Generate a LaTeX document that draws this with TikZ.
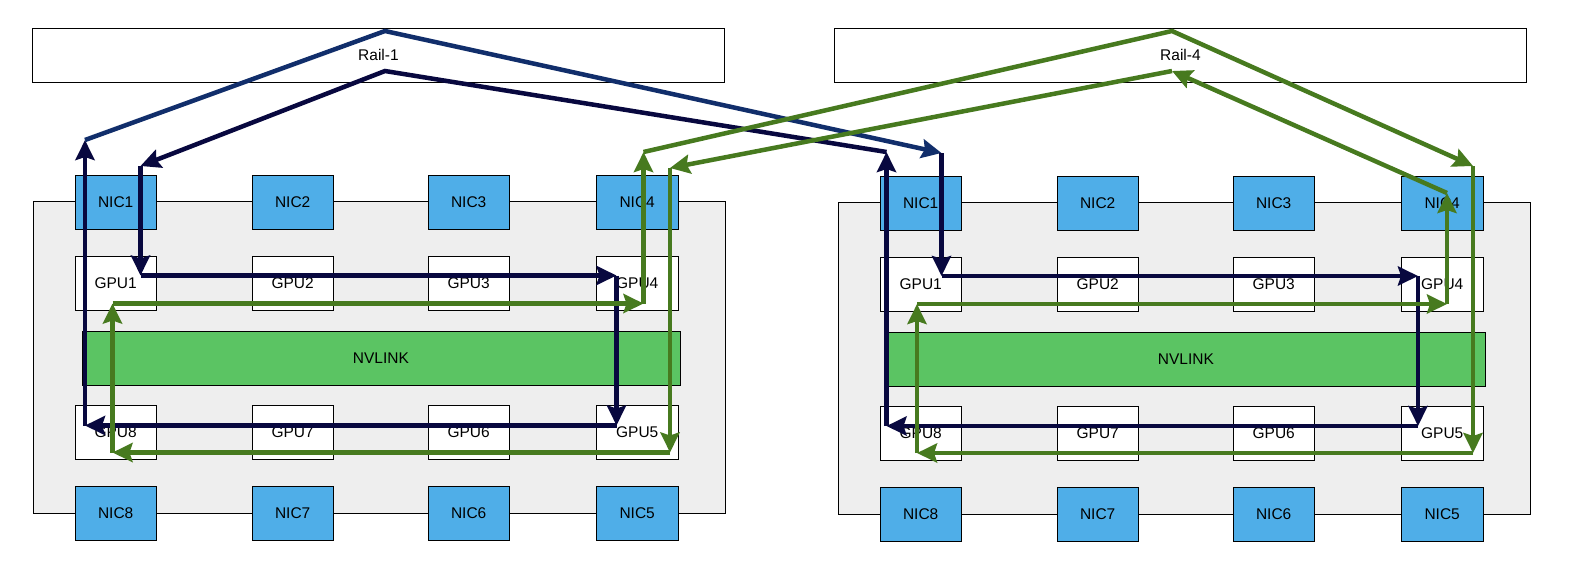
\documentclass[tikz,border=0pt]{standalone}
\usepackage{fontspec}
\setmainfont{Liberation Sans}
\usetikzlibrary{arrows.meta}
\definecolor{nicblue}{HTML}{4FAEE8}
\definecolor{nvgreen}{HTML}{5BC463}
\definecolor{srvgray}{HTML}{EEEEEE}
\definecolor{navyd}{HTML}{08083F}
\definecolor{navyl}{HTML}{112E6B}
\definecolor{pathgreen}{HTML}{477A1F}
\begin{document}
\begin{tikzpicture}[x=1pt,y=-1pt,
  base/.style={draw=black, line width=0.9pt, inner sep=0pt, anchor=north west,
    font=\fontsize{15.5}{18}\selectfont},
  railbox/.style={base, fill=white, minimum width=692pt, minimum height=54pt},
  srvbox/.style={base, fill=srvgray, minimum width=692pt, minimum height=312pt},
  nvbox/.style={base, fill=nvgreen, minimum width=598pt, minimum height=54pt},
  nicbox/.style={base, fill=nicblue, minimum width=81.5pt, minimum height=54pt},
  gpubox/.style={base, fill=white, minimum width=81.5pt, minimum height=54.5pt},
  tip/.style={-{Stealth[length=20pt,width=19pt,inset=3pt]}},
  navyline/.style={draw=navyd, line width=4.5pt, tip},
  navyouter/.style={draw=navyl, line width=4.5pt, tip},
  greenline/.style={draw=pathgreen, line width=4.5pt, tip}]
\useasboundingbox (0,0) rectangle (1572,566);
\fill[white] (0,0) rectangle (1572,566);

% ---------- panels ----------
\foreach \p/\dx/\dy/\rx/\rlabel in {L/0/0/32/Rail-1, R/805/1/834/Rail-4} {
  \node[railbox] (\p-rail) at (\rx,28) {\rlabel};
  \begin{scope}[shift={(\dx,\dy)}]
    \node[srvbox] (\p-srv) at (33,201) {};
    \node[nvbox] (\p-nvlink) at (81.5,330.5) {NVLINK};
    \foreach \i/\x in {1/74.5,2/251.5,3/427.5,4/596} {
      \pgfmathtruncatemacro{\j}{9-\i}
      \node[nicbox] (\p-nic\i) at (\x,174.5) {NIC\i};
      \node[gpubox] (\p-gpu\i) at (\x,255.5) {GPU\i};
      \node[gpubox] (\p-gpu\j) at (\x,404.5) {GPU\j};
      \node[nicbox] (\p-nic\j) at (\x,486) {NIC\j};
    }
  \end{scope}
}

% ---------- navy ring coordinates ----------
\coordinate (na) at (140.5,166);
\coordinate (nb) at (140.5,275.5);
\coordinate (nc) at (616.5,275.5);
\coordinate (nd) at (616.5,425.5);
\coordinate (ne) at (85,425.5);
\coordinate (nf) at (85,140);
\coordinate (rail1top) at (385,31);
\coordinate (rail1low) at (385,71);
\coordinate (ng) at (941.5,153);
\coordinate (nh) at (941.5,276);
\coordinate (ni) at (1418,276);
\coordinate (nj) at (1418,426);
\coordinate (nk) at (886.5,426);
\coordinate (nl) at (886.5,152);

% ---------- green ring coordinates ----------
\coordinate (ga) at (112.5,452.5);
\coordinate (gb) at (112.5,303.5);
\coordinate (gc) at (643.5,303.5);
\coordinate (gd) at (643.5,152);
\coordinate (rail4top) at (1172,31);
\coordinate (rail4low) at (1172,71);
\coordinate (ge) at (1473,166);
\coordinate (gf) at (1473,453);
\coordinate (gg) at (917,453);
\coordinate (gh) at (917,304);
\coordinate (gi) at (1447,304);
\coordinate (gj) at (1447,193);
\coordinate (gk) at (670,168);
\coordinate (gl) at (670,452.5);

% ---------- navy connectors ----------
\draw[navyline] (nl) -- (rail1low) -- (na);
\draw[navyline] (na) -- (nb);
\draw[navyline] (nb) -- (nc);
\draw[navyline] (nc) -- (nd);
\draw[navyline] (nd) -- (ne);
\draw[navyline] (ne) -- (nf);
\draw[navyouter] (nf) -- (rail1top) -- (ng);
\draw[navyline] (ng) -- (nh);
\draw[navyline] (nh) -- (ni);
\draw[navyline] (ni) -- (nj);
\draw[navyline] (nj) -- (nk);
\draw[navyline] (nk) -- (nl);

% ---------- green connectors ----------
\draw[greenline] (ga) -- (gb);
\draw[greenline] (gb) -- (gc);
\draw[greenline] (gc) -- (gd);
\draw[greenline] (gd) -- (rail4top) -- (ge);
\draw[greenline] (ge) -- (gf);
\draw[greenline] (gf) -- (gg);
\draw[greenline] (gg) -- (gh);
\draw[greenline] (gh) -- (gi);
\draw[greenline] (gi) -- (gj);
\draw[greenline] (gj) -- (rail4low);
\draw[greenline] (rail4low) -- (gk);
\draw[greenline] (gk) -- (gl);
\draw[greenline] (gl) -- (ga);
\end{tikzpicture}
\end{document}
